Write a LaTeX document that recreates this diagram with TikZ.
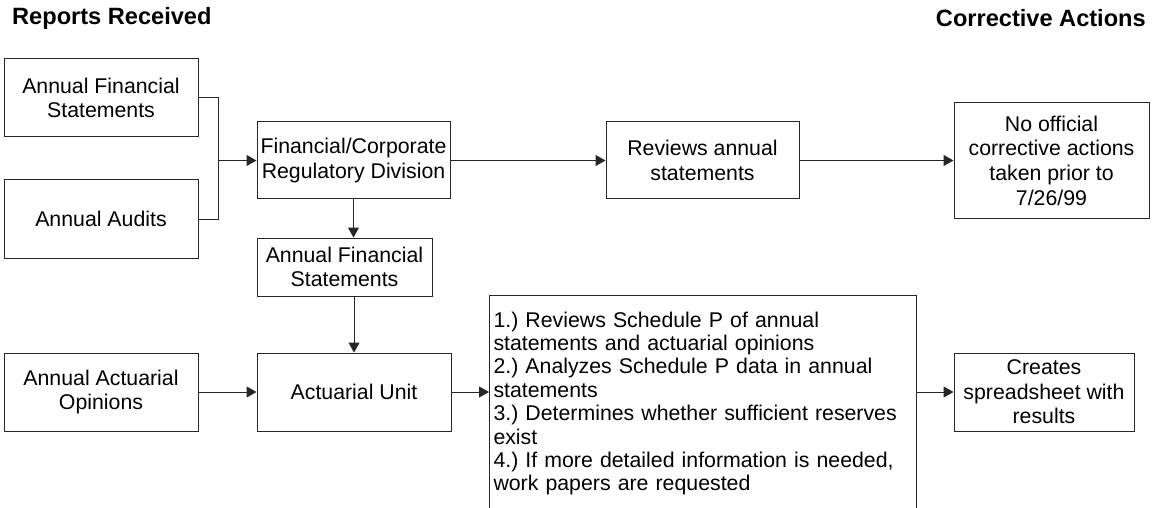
\documentclass[tikz,border=0pt]{standalone}
\usepackage{fontspec}
\setmainfont{Liberation Sans}
\usetikzlibrary{arrows.meta}
\frenchspacing
\newcommand\boxfont{\fontsize{21.3}{24.6}\selectfont}
\newcommand\listfont{\fontsize{21.3}{23.4}\selectfont\frenchspacing}
\newcommand\headfont{\fontsize{23.6}{26}\selectfont\bfseries}
\begin{document}
\begin{tikzpicture}[x=1pt,y=-1pt,
  flowbox/.style={draw=black!85, line width=1pt, fill=white, font=\boxfont,
    align=center, inner sep=0pt},
  header/.style={font=\headfont, inner sep=0pt},
  conn/.style={draw=black!85, line width=1pt},
  arr/.style={conn, -{Triangle[length=10pt,width=11pt]}}]
\clip (0,0) rectangle (1152,508);
\fill[white] (0,0) rectangle (1152,508);

\node[header, anchor=west] (hl) at (12,18) {Reports Received};
\node[header, anchor=east] (hr) at (1146,18) {Corrective Actions};

\node[flowbox, minimum width=194pt, minimum height=78pt] (afs1) at (101,98) {Annual Financial\\Statements};
\node[flowbox, minimum width=194pt, minimum height=78pt] (aa) at (101,219) {Annual Audits};
\node[flowbox, minimum width=193pt, minimum height=77pt] (fcrd) at (353.5,160.5) {Financial/Corporate\\Regulatory Division};
\node[flowbox, minimum width=193pt, minimum height=77pt] (rev) at (702.5,160.5) {Reviews annual\\statements};
\node[flowbox, minimum width=195pt, minimum height=116pt] (noff) at (1051.5,160.5) {No official\\corrective actions\\taken prior to\\7/26/99};
\node[flowbox, minimum width=175pt, minimum height=58pt] (afs2) at (344.5,267) {Annual Financial\\Statements};
\node[flowbox, minimum width=194pt, minimum height=78pt] (aao) at (101,392) {Annual Actuarial\\Opinions};
\node[flowbox, minimum width=194pt, minimum height=78pt] (au) at (354,392) {Actuarial Unit};
\node[flowbox, font=\listfont, anchor=north west, align=left, inner xsep=4pt, inner ysep=0pt,
  text width=419pt, minimum width=427pt, minimum height=216pt] (list) at (489,295)
  {1.) Reviews Schedule P of annual\\statements and actuarial opinions\\2.) Analyzes Schedule P data in annual\\statements\\3.) Determines whether sufficient reserves\\exist\\4.) If more detailed information is needed,\\work papers are requested};
\node[flowbox, minimum width=180pt, minimum height=78pt] (cr) at (1044,392) {Creates\\spreadsheet with\\results};

\coordinate (jx) at (218,160.5);
\draw[conn] (afs1.east) -| (jx);
\draw[conn] (aa.east) -| (jx);
\draw[arr] (jx) -- (fcrd.west);
\draw[arr] (fcrd.east) -- (rev.west);
\draw[arr] (rev.east) -- (rev.east -| noff.west);
\draw[arr] (fcrd.south) -- (fcrd.south |- afs2.north);
\draw[arr] (au.north |- afs2.south) -- (au.north);
\draw[arr] (aao.east) -- (au.west);
\draw[arr] (au.east) -- (au.east -| list.west);
\draw[arr] (cr.west -| list.east) -- (cr.west);
\end{tikzpicture}
\end{document}
